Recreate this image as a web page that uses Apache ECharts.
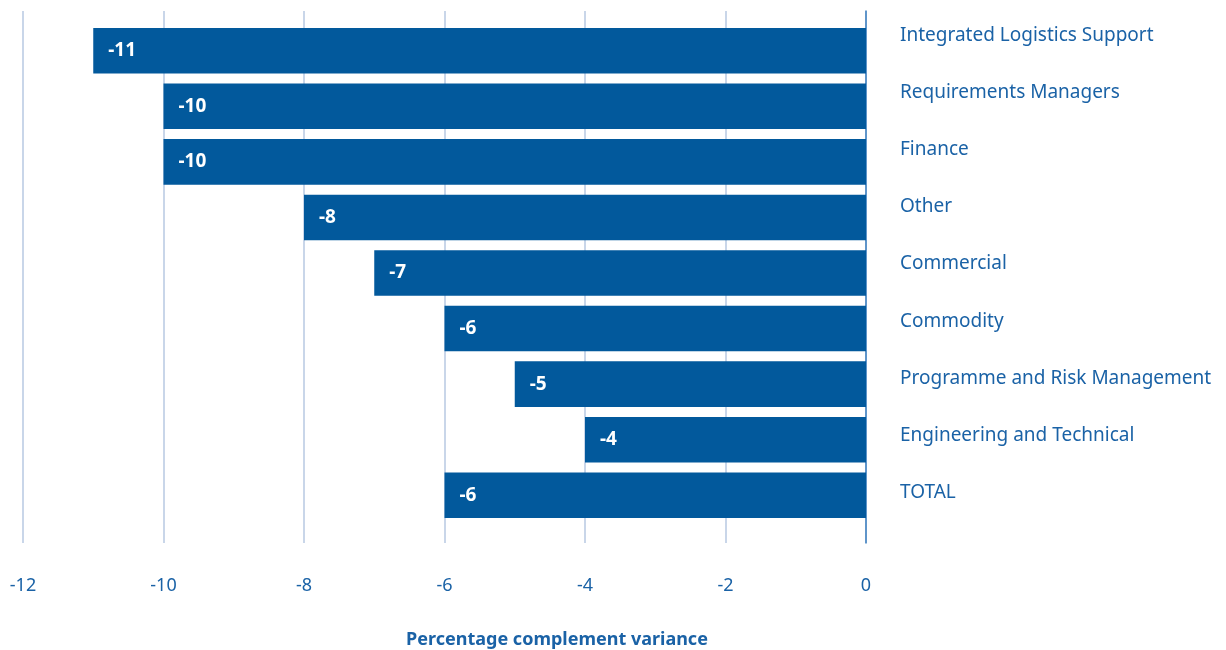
<!DOCTYPE html>
<html>
<head>
<meta charset="utf-8">
<script src="https://cdn.jsdelivr.net/npm/echarts@6/dist/echarts.min.js"></script>
<style>html,body{margin:0;padding:0;background:#fff}#c{width:1226px;height:650px}</style>
</head>
<body>
<div id="c"></div>
<script>
const categories = ["Integrated Logistics Support","Requirements Managers","Finance","Other","Commercial","Commodity","Programme and Risk Management","Engineering and Technical","TOTAL"];
const values = [-11,-10,-10,-8,-7,-6,-5,-4,-6];
const axisName = "Percentage complement variance";

const textColor = '#1a62a6';
const barColor = '#02599c';
const font = 'Noto Sans';

const chart = echarts.init(document.getElementById('c'));
chart.setOption({
  animation: false,
  grid: [
    {left: 23, right: 360, top: 23, height: 500, outerBoundsMode: 'none', containLabel: false},
    {left: 23, right: 360, top: 11, height: 532, outerBoundsMode: 'none', containLabel: false},
    {left: 23, right: 360, top: 7, height: 514, outerBoundsMode: 'none', containLabel: false}
  ],
  xAxis: [
    {gridIndex: 0, type: 'value', min: -12, max: 0, interval: 2, show: false},
    {gridIndex: 1, type: 'value', min: -12, max: 0, interval: 2,
     axisLine: {show: false}, axisTick: {show: false},
     splitLine: {show: true, lineStyle: {color: '#b7c9e2', width: 1.5}},
     axisLabel: {color: textColor, fontSize: 18, fontFamily: font, margin: 34},
     name: axisName, nameLocation: 'middle', nameGap: 88,
     nameTextStyle: {color: textColor, fontSize: 18, fontWeight: 'bold', fontFamily: font, padding: [0,0,0,225]}},
    {gridIndex: 2, type: 'value', min: -12, max: 0, show: false}
  ],
  yAxis: [
    {gridIndex: 0, type: 'category', data: categories, inverse: true, show: false},
    {gridIndex: 1, type: 'category', data: [''], position: 'right',
     axisLine: {show: true, lineStyle: {color: '#3d7fc1', width: 1.5}},
     axisTick: {show: false}, axisLabel: {show: false}, splitLine: {show: false}},
    {gridIndex: 2, type: 'category', data: categories, inverse: true, position: 'right',
     axisLine: {show: false}, axisTick: {show: false},
     axisLabel: {color: textColor, fontSize: 19, fontFamily: font, margin: 34, align: 'left'}}
  ],
  series: [{
    type: 'bar', xAxisIndex: 0, yAxisIndex: 0, data: values,
    barCategoryGap: '18%',
    itemStyle: {color: barColor},
    label: {show: true, position: 'insideLeft', distance: 15, color: '#fff', fontSize: 19, fontWeight: 'bold', fontFamily: font}
  }]
});
</script>
</body>
</html>
